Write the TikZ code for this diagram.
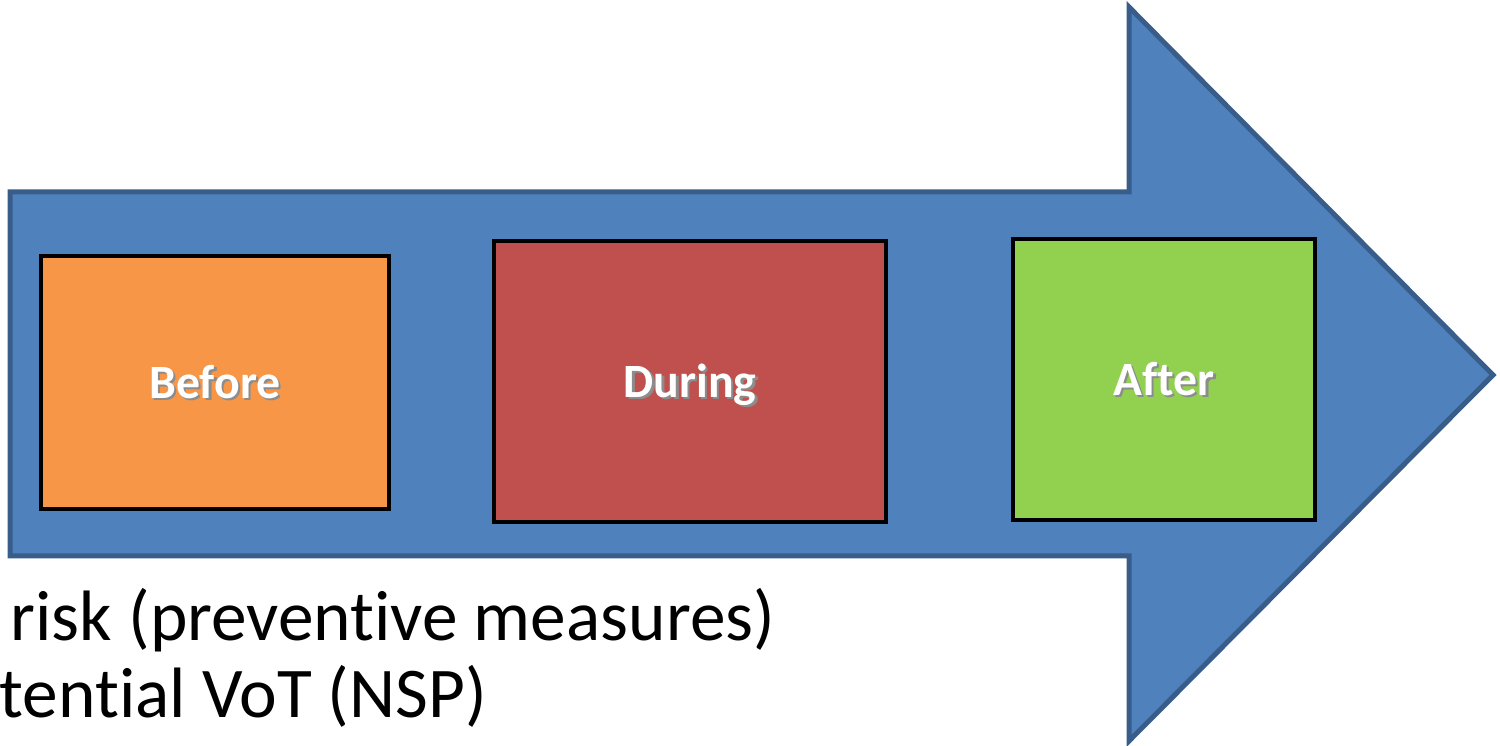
\documentclass[tikz,border=0pt]{standalone}
\usepackage{fontspec}
\setmainfont[Ligatures={NoCommon,NoContextual,NoRare,NoRequired}]{Carlito}
\usepackage{tikz}
\usetikzlibrary{positioning}
\definecolor{arrowBlue}{HTML}{4F81BD}
\definecolor{arrowEdge}{HTML}{385D8A}
\definecolor{beforeOrange}{HTML}{F79646}
\definecolor{duringRed}{HTML}{C0504D}
\definecolor{afterGreen}{HTML}{92D050}
\newcommand{\shadowed}[1]{\makebox[0pt][l]{\hspace{0.7pt}\raisebox{-0.7pt}{\color{black!45}#1}}#1}

\begin{document}
\begin{tikzpicture}
\tikzset{StageBox/.style={
  draw=black,
  line width=0.04cm,
  rectangle,
  align=center,
  text=white,
  text height=1.07em,
  text depth=0.18em,
  font=\fontsize{13.6}{16}\selectfont\bfseries,
}}
\tikzset{NoteLine/.style={
  anchor=base west,
  inner sep=0pt,
  font=\fontsize{20.3}{24}\selectfont,
}}

\useasboundingbox (0,0) rectangle (15,7.46);

% the big arrow
\draw[fill=arrowBlue, draw=arrowEdge, line width=0.05cm, line join=miter]
  (0.10,5.54) -- (11.29,5.54) -- (11.29,7.39) -- (14.93,3.71)
  -- (11.29,0.05) -- (11.29,1.90) -- (0.10,1.90) -- cycle;

% stages
\node[StageBox, fill=beforeOrange, minimum width=3.48cm, minimum height=2.53cm]
  (before) at (2.15,3.635) {\shadowed{Before}};
\node[StageBox, fill=duringRed, minimum width=3.92cm, minimum height=2.81cm]
  (during) at (6.90,3.645) {\shadowed{During}};
\node[StageBox, fill=afterGreen, minimum width=3.02cm, minimum height=2.81cm]
  (after) at (11.64,3.665) {\shadowed{After}};

% notes below the arrow
\node[NoteLine] (risk) at (0.10,1.05) {risk (preventive measures)};
\node[NoteLine] (vot) at (-0.01,0.28) {tential VoT (NSP)};
\end{tikzpicture}
\end{document}
